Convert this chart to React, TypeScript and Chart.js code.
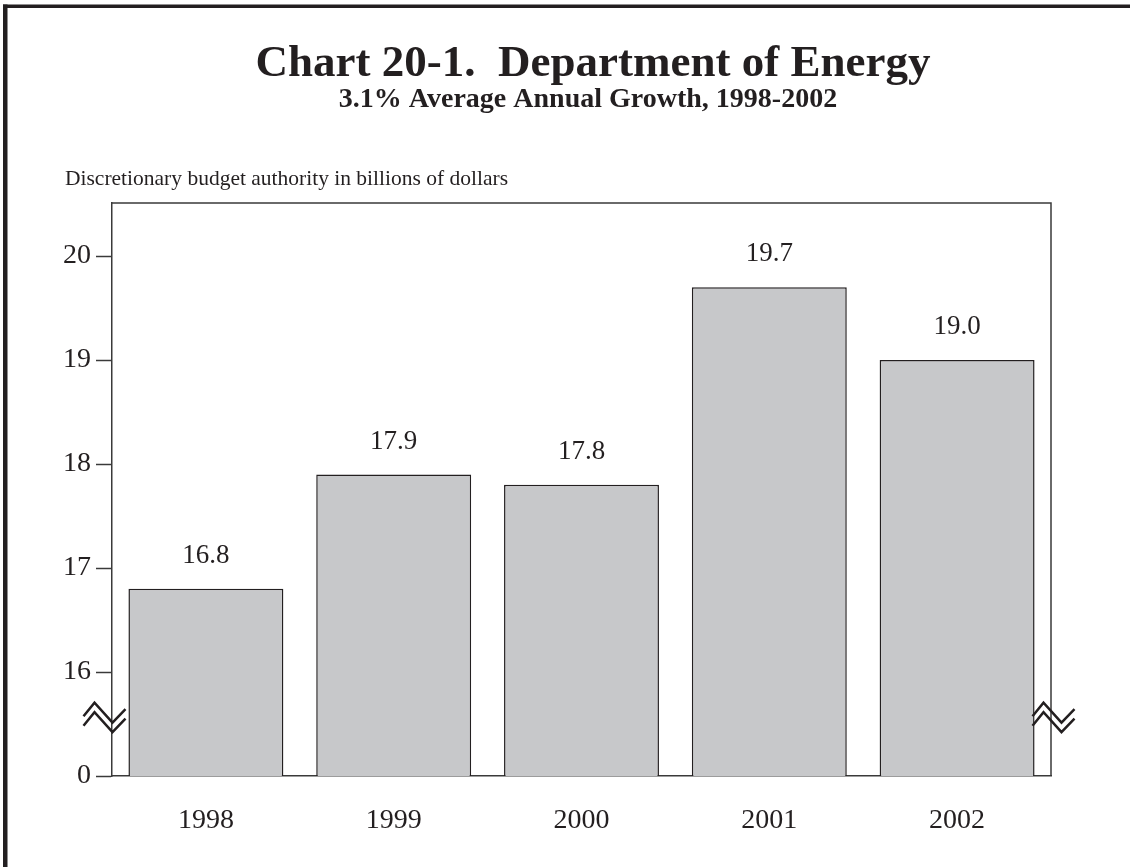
import React, { useEffect, useRef } from "react";
import { Chart, registerables } from "chart.js";

Chart.register(...registerables);

const titleText = "Chart 20-1.  Department of Energy";
const subtitleText = "3.1% Average Annual Growth, 1998-2002";
const yAxisTitle = "Discretionary budget authority in billions of dollars";
const categories = ["1998", "1999", "2000", "2001", "2002"];
const values = [16.8, 17.9, 17.8, 19.7, 19.0];
const valueLabels = ["16.8", "17.9", "17.8", "19.7", "19.0"];
// 15 on the internal scale is shown as "0" (broken axis)
const yTickValues = [15, 16, 17, 18, 19, 20];
const yTickLabels = ["0", "16", "17", "18", "19", "20"];
const yMin = 15;
const yMax = 20.51;
const breakValue = 15.575;

const FONT = '"Liberation Serif", "Times New Roman", Times, serif';
const INK = "#231f20";
const AXIS = "#3a3a3a";
const BAR = "#c7c8ca";

const decorPlugin = {
  id: "decor",
  afterDraw(chart: any) {
    const ctx = chart.ctx;
    const { left, right, top, bottom } = chart.chartArea;
    const yScale = chart.scales.y;
    ctx.save();
    // page frame (top + left)
    ctx.fillStyle = INK;
    ctx.fillRect(3, 4.5, 1127, 3.5);
    ctx.fillRect(3, 4.5, 4.5, 863);

    // titles
    ctx.fillStyle = INK;
    ctx.textAlign = "center";
    ctx.textBaseline = "alphabetic";
    ctx.font = `bold 45px ${FONT}`;
    ctx.fillText(titleText, 593, 76);
    ctx.font = `bold 28px ${FONT}`;
    ctx.fillText(subtitleText, 588, 107);
    ctx.textAlign = "left";
    ctx.font = `21.5px ${FONT}`;
    ctx.fillText(yAxisTitle, 65, 185);

    // plot frame top & right
    ctx.strokeStyle = AXIS;
    ctx.lineWidth = 1.5;
    ctx.beginPath();
    ctx.moveTo(left, top);
    ctx.lineTo(right, top);
    ctx.lineTo(right, bottom);
    ctx.stroke();

    // value labels
    const meta = chart.getDatasetMeta(0);
    ctx.font = `27px ${FONT}`;
    ctx.textAlign = "center";
    ctx.textBaseline = "middle";
    ctx.fillStyle = INK;
    meta.data.forEach((bar: any, i: number) => {
      ctx.fillText(valueLabels[i], bar.x, bar.y - 33);
    });

    // axis breaks
    const by = yScale.getPixelForValue(breakValue);
    const shape = [
      [0, 0],
      [11, -13.5],
      [29, 6.5],
      [42, -7],
    ];
    const drawBreak = (sx: number) => {
      ctx.strokeStyle = INK;
      ctx.lineWidth = 2.5;
      ctx.lineJoin = "miter";
      [0, 9.5].forEach((off) => {
        ctx.beginPath();
        shape.forEach(([dx, dy], k) => {
          if (k === 0) ctx.moveTo(sx + dx, by + dy + off);
          else ctx.lineTo(sx + dx, by + dy + off);
        });
        ctx.stroke();
      });
    };
    drawBreak(left - 28.5);
    drawBreak(right - 18.5);
    ctx.restore();
  },
};

export default function App() {
  const ref = useRef<HTMLCanvasElement | null>(null);
  useEffect(() => {
    document.body.style.margin = "0";
    const canvas = ref.current!;
    const chart = new Chart(canvas, {
      type: "bar",
      data: {
        labels: categories,
        datasets: [
          {
            data: values,
            backgroundColor: BAR,
            borderColor: INK,
            borderWidth: 1.5,
            borderSkipped: false,
            barPercentage: 0.825,
            categoryPercentage: 1,
          },
        ],
      },
      options: {
        animation: false,
        responsive: false,
        layout: { padding: { left: 0, top: 203, right: 79, bottom: 0 } },
        plugins: {
          legend: { display: false },
          tooltip: { enabled: false },
          title: { display: false },
        },
        scales: {
          x: {
            type: "category",
            grid: { display: false },
            border: { display: true, color: AXIS, width: 1.5 },
            ticks: {
              color: INK,
              font: { family: FONT, size: 28 },
              padding: 20,
              maxRotation: 0,
            },
            afterFit(s: any) {
              s.height = 91;
            },
          },
          y: {
            type: "linear",
            min: yMin,
            max: yMax,
            afterBuildTicks(s: any) {
              s.ticks = yTickValues.map((v) => ({ value: v }));
            },
            grid: {
              drawOnChartArea: false,
              drawTicks: true,
              tickLength: 16,
              tickColor: AXIS,
              tickWidth: 1.5,
            },
            border: { display: true, color: AXIS, width: 1.5 },
            ticks: {
              color: INK,
              font: { family: FONT, size: 28 },
              padding: 5,
              callback: (v: any) => {
                const i = yTickValues.indexOf(Number(v));
                return i >= 0 ? yTickLabels[i] : "";
              },
            },
            afterFit(s: any) {
              s.width = 112;
            },
          },
        },
      },
      plugins: [decorPlugin],
    });
    return () => chart.destroy();
  }, []);
  return (
    <div style={{ width: 1130, height: 867, background: "#fff" }}>
      <canvas ref={ref} width={1130} height={867} style={{ display: "block" }} />
    </div>
  );
}
